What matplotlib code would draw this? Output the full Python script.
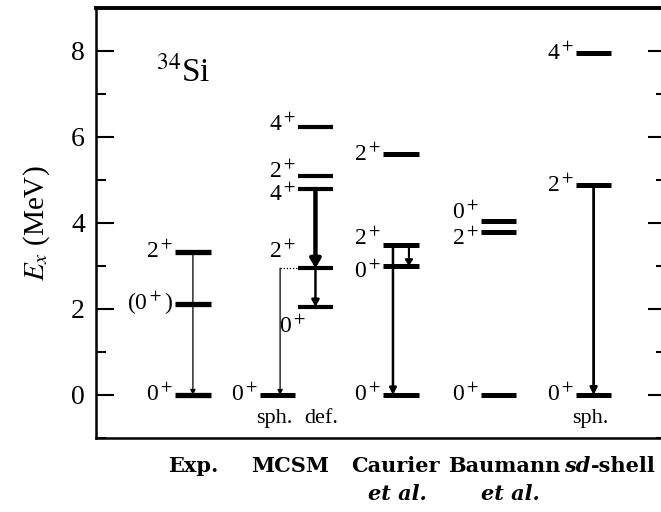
import matplotlib
matplotlib.use("Agg")
import matplotlib.pyplot as plt
from matplotlib.ticker import MultipleLocator
from matplotlib.transforms import blended_transform_factory

plt.rcParams['font.family'] = ['Liberation Serif', 'DejaVu Serif']
plt.rcParams['mathtext.fontset'] = 'stix'

# ---- data ----
columns = ["Exp.", "MCSM", "Caurier", "Baumann", "sd-shell"]
col_x = [1.70, 3.41, 5.25, 7.17, 8.68]

exp_E = [0.0, 2.12, 3.33]
exp_lab = ["0$^+$", "(0$^+$)", "2$^+$"]

sph_E = [0.0]
sph_lab = ["0$^+$"]
sph_2plus = 2.95

def_E = [2.05, 2.95, 4.79, 5.09, 6.23]
def_lab = ["0$^+$", "", "4$^+$", "2$^+$", "4$^+$"]

cau_E = [0.0, 3.0, 3.49, 5.6]
cau_lab = ["0$^+$", "0$^+$", "2$^+$", "2$^+$"]

bau_E = [0.0, 3.79, 4.05]
bau_lab = ["0$^+$", "2$^+$", "0$^+$"]

sd_E = [0.0, 4.88, 7.95]
sd_lab = ["0$^+$", "2$^+$", "4$^+$"]

# level column centers (x, data units)
xc_exp, xc_sph, xc_def, xc_cau, xc_bau, xc_sd = 1.70, 3.18, 3.85, 5.35, 7.06, 8.73
hw = 0.31  # half width of level bars
LFS = 17   # level label font size
LAB_FONT = ['DejaVu Serif']

fig = plt.figure(figsize=(6.61, 5.12), dpi=100)
ax = fig.add_axes([96/661, 1-438/512, 570/661, 430/512])
ax.set_xlim(0, 10.0)
ax.set_ylim(-1, 9)

def levels(xc, Es, labs, lw=3.6, lab_dy=None):
    for i, (E, l) in enumerate(zip(Es, labs)):
        ax.plot([xc-hw, xc+hw], [E, E], color='black', lw=lw, solid_capstyle='butt')
        if l:
            dy = 0 if lab_dy is None else lab_dy[i]
            ax.text(xc-hw-0.03, E+dy, l, ha='right', va='center', fontsize=LFS)

def arrow(x, E1, E2, lw, hw_, hl_):
    ax.annotate("", xy=(x, E2), xytext=(x, E1),
                arrowprops=dict(arrowstyle=f"-|>,head_width={hw_},head_length={hl_}",
                                lw=lw, color='black', shrinkA=0, shrinkB=0))

# Exp
levels(xc_exp, exp_E, exp_lab, lw=3.8)
arrow(xc_exp, exp_E[2], 0.0, 0.9, 0.15, 0.3)

# MCSM spherical
levels(xc_sph, sph_E, sph_lab, lw=3.6)
ax.plot([xc_sph+0.05, xc_def-hw], [sph_2plus, sph_2plus], color='black', lw=0.9, ls=(0, (1, 1.5)))
ax.text(3.27, sph_2plus+0.12, "2$^+$", ha='center', va='bottom', fontsize=LFS)
arrow(xc_sph+0.05, sph_2plus, 0.0, 0.9, 0.15, 0.3)

# MCSM deformed
levels(xc_def, def_E, ["", "", "4$^+$", "2$^+$", "4$^+$"], lw=3.0, lab_dy=[0, 0, -0.14, 0.1, 0.05])
ax.text(xc_def-0.4, def_E[0]-0.47, "0$^+$", ha='center', va='center', fontsize=LFS)
arrow(xc_def, def_E[2], def_E[1], 3.2, 0.3, 0.5)
arrow(xc_def, def_E[1], def_E[0], 1.8, 0.22, 0.4)

# Caurier
levels(xc_cau, cau_E, cau_lab, lw=3.6, lab_dy=[0, -0.12, 0.15, 0])
arrow(xc_cau-0.14, cau_E[2], 0.0, 1.8, 0.2, 0.4)
arrow(xc_cau+0.14, cau_E[2], cau_E[1], 1.5, 0.22, 0.35)

# Baumann
levels(xc_bau, bau_E, bau_lab, lw=3.6, lab_dy=[0, -0.15, 0.2])

# sd-shell
levels(xc_sd, sd_E, sd_lab, lw=3.6)
arrow(xc_sd, sd_E[1], 0.0, 2.0, 0.2, 0.4)

# annotations
ax.text(xc_sph-0.05, -0.55, "sph.", ha='center', va='center', fontsize=16)
ax.text(xc_def+0.1, -0.55, "def.", ha='center', va='center', fontsize=16)
ax.text(xc_sd-0.05, -0.55, "sph.", ha='center', va='center', fontsize=16)
ax.text(1.05, 7.5, "$^{34}$Si", ha='left', va='center', fontsize=24)

# column labels
tr = blended_transform_factory(ax.transData, ax.transAxes)
for name, x in zip(columns[:4], col_x[:4]):
    ax.text(x, -0.065, name, transform=tr, ha='center', va='center', fontsize=15,
            fontweight='bold', family=LAB_FONT)
ax.text(col_x[4], -0.065, "sd", transform=tr, ha='right', va='center', fontsize=15,
        fontweight='bold', style='italic', family=LAB_FONT)
ax.text(col_x[4], -0.065, "-shell", transform=tr, ha='left', va='center', fontsize=15,
        fontweight='bold', family=LAB_FONT)
ax.text(5.29, -0.13, "et al.", transform=tr, ha='center', va='center', fontsize=15,
        fontweight='bold', style='italic', family=LAB_FONT)
ax.text(7.27, -0.13, "et al.", transform=tr, ha='center', va='center', fontsize=15,
        fontweight='bold', style='italic', family=LAB_FONT)

# axes styling
ax.set_xticks([])
ax.yaxis.set_major_locator(MultipleLocator(2))
ax.yaxis.set_minor_locator(MultipleLocator(1))
ax.tick_params(axis='y', which='both', direction='in', right=True, labelsize=20, width=1.5, pad=8)
ax.tick_params(axis='y', which='major', length=13)
ax.tick_params(axis='y', which='minor', length=7)
for s in ax.spines.values():
    s.set_linewidth(1.8)
ax.spines['top'].set_linewidth(2.8)
ax.set_ylabel("$E_x$ (MeV)", fontsize=21, labelpad=14)

fig.savefig("out.png", dpi=100)
